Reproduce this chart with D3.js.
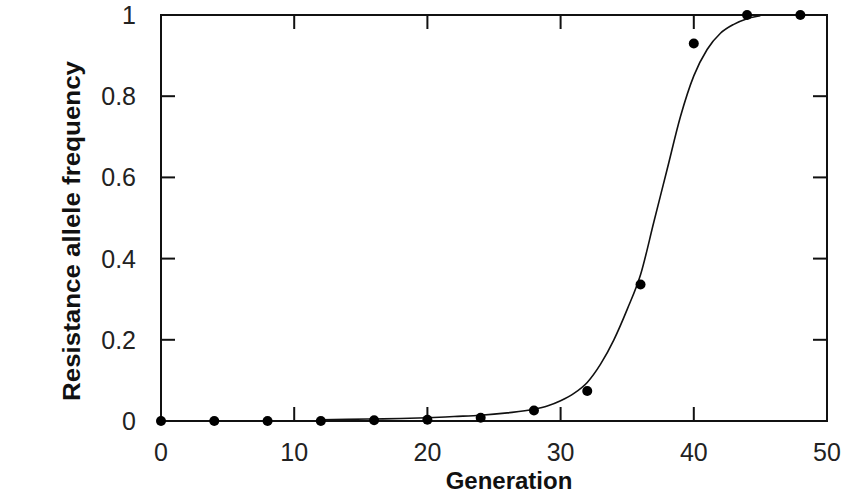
<!DOCTYPE html>
<html>
<head>
<meta charset="utf-8">
<script src="https://cdn.jsdelivr.net/npm/d3@7"></script>
<style>
  html, body { margin: 0; padding: 0; background: #fff; }
  svg { display: block; }
</style>
</head>
<body>
<svg id="chart" width="843" height="497"></svg>
<script>
// Observed data points
const generations = [0, 4, 8, 12, 16, 20, 24, 28, 32, 36, 40, 44, 48];
const frequencies = [0, 0, 0, 0, 0.002, 0.003, 0.008, 0.026, 0.074, 0.336, 0.93, 1, 1];

// Fitted curve
const curveGen  = [12, 14, 16, 18, 20, 22, 24, 26, 28, 29, 30, 31, 32, 33, 34, 35, 36, 37, 38, 39, 40, 41, 42, 43, 44, 45];
const curveFreq = [0.003, 0.004, 0.005, 0.006, 0.008, 0.011, 0.014, 0.02, 0.029, 0.037, 0.05, 0.068, 0.095, 0.14, 0.2, 0.275, 0.36, 0.49, 0.62, 0.75, 0.85, 0.915, 0.955, 0.977, 0.991, 0.998];

const xTicks = [0, 10, 20, 30, 40, 50];
const yTicks = [0, 0.2, 0.4, 0.6, 0.8, 1];
const yTickLabels = ["0", "0.2", "0.4", "0.6", "0.8", "1"];
const xTitle = "Generation";
const yTitle = "Resistance allele frequency";

const margin = { left: 161, right: 16, top: 15, bottom: 76 };
const W = 843, H = 497;
const x = d3.scaleLinear().domain([0, 50]).range([margin.left, W - margin.right]);
const y = d3.scaleLinear().domain([0, 1]).range([H - margin.bottom, margin.top]);

const svg = d3.select("#chart");
const font = "'Liberation Sans', Arial, sans-serif";
const tickLen = 14;

// frame
svg.append("rect")
  .attr("x", x(0)).attr("y", y(1))
  .attr("width", x(50) - x(0)).attr("height", y(0) - y(1))
  .attr("fill", "none").attr("stroke", "#111").attr("stroke-width", 2);

// inner ticks (bottom, top, left, right)
const innerX = xTicks.filter(d => d > 0 && d < 50);
const innerY = yTicks.filter(d => d > 0 && d < 1);
const tk = svg.append("g").attr("stroke", "#111").attr("stroke-width", 2);
innerX.forEach(d => {
  tk.append("line").attr("x1", x(d)).attr("x2", x(d)).attr("y1", y(0)).attr("y2", y(0) - tickLen);
  tk.append("line").attr("x1", x(d)).attr("x2", x(d)).attr("y1", y(1)).attr("y2", y(1) + tickLen);
});
innerY.forEach(d => {
  tk.append("line").attr("y1", y(d)).attr("y2", y(d)).attr("x1", x(0)).attr("x2", x(0) + tickLen);
  tk.append("line").attr("y1", y(d)).attr("y2", y(d)).attr("x1", x(50)).attr("x2", x(50) - tickLen);
});

// tick labels
svg.append("g").selectAll("text").data(xTicks).join("text")
  .attr("x", d => x(d)).attr("y", y(0) + 40)
  .attr("text-anchor", "middle")
  .attr("font-family", font).attr("font-size", 25).attr("fill", "#222")
  .text(d => d);

svg.append("g").selectAll("text").data(yTicks).join("text")
  .attr("x", x(0) - 25).attr("y", d => y(d))
  .attr("dy", "0.36em")
  .attr("text-anchor", "end")
  .attr("font-family", font).attr("font-size", 25).attr("fill", "#222")
  .text((d, i) => yTickLabels[i]);

// axis titles
svg.append("text")
  .attr("x", 509).attr("y", 489)
  .attr("text-anchor", "middle")
  .attr("font-family", font).attr("font-size", 24).attr("font-weight", "bold").attr("fill", "#111")
  .text(xTitle);

svg.append("text")
  .attr("transform", `translate(80, ${(y(0) + y(1)) / 2 + 13}) rotate(-90)`)
  .attr("text-anchor", "middle")
  .attr("font-family", font).attr("font-size", 24).attr("font-weight", "bold").attr("fill", "#111")
  .attr("textLength", 340).attr("lengthAdjust", "spacingAndGlyphs")
  .text(yTitle);

// fitted curve
const line = d3.line().x(d => x(d[0])).y(d => y(d[1])).curve(d3.curveMonotoneX);
svg.append("path")
  .datum(curveGen.map((g, i) => [g, curveFreq[i]]))
  .attr("d", line)
  .attr("fill", "none").attr("stroke", "#111").attr("stroke-width", 1.6);

// points
svg.append("g").selectAll("circle").data(generations).join("circle")
  .attr("cx", d => x(d)).attr("cy", (d, i) => y(frequencies[i]))
  .attr("r", 5).attr("fill", "#000");
</script>
</body>
</html>
